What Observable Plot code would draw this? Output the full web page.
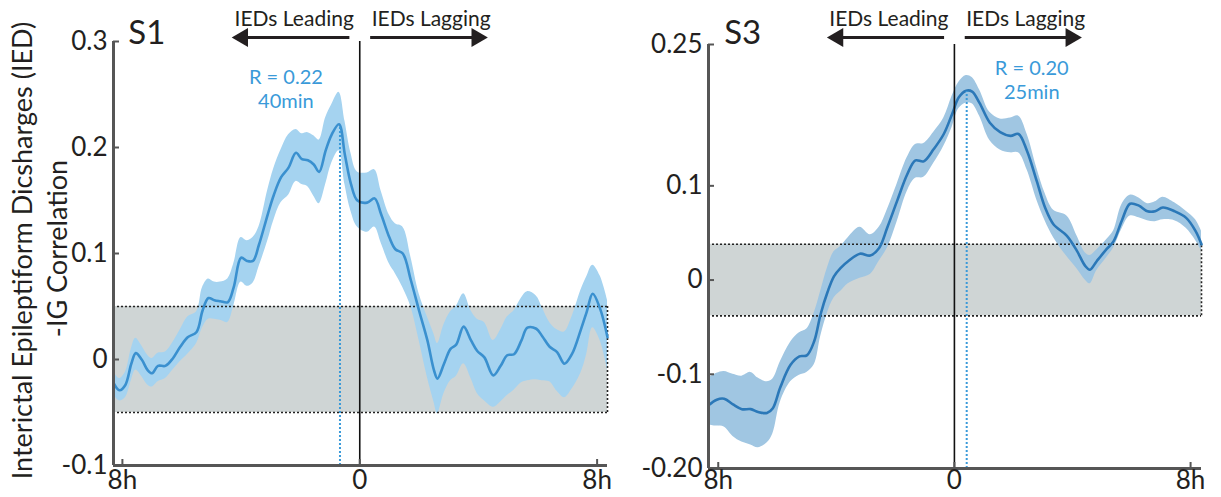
<!DOCTYPE html>
<html><head><meta charset="utf-8">
<script src="https://cdn.jsdelivr.net/npm/d3@7"></script>
<script src="https://cdn.jsdelivr.net/npm/@observablehq/plot@0.6"></script>
<style>
body{margin:0;background:#fff;}
#wrap{position:relative;width:1221px;height:497px;overflow:hidden;background:#fff;}
#wrap svg{position:absolute;top:0;}
</style></head><body><div id="wrap"></div>
<script>
// ---------- S1 (left panel) ----------
const s1Hours = [-8.3,-8.1,-7.9,-7.7,-7.55,-7.35,-7.15,-7.0,-6.8,-6.55,-6.3,-6.05,-5.8,-5.5,-5.3,-5.1,-4.9,-4.7,-4.45,-4.25,-4.0,-3.8,-3.6,-3.4,-3.1,-2.9,-2.65,-2.4,-2.15,-1.95,-1.75,-1.55,-1.37,-1.15,-0.95,-0.7,-0.5,-0.3,-0.08,0.25,0.5,0.72,1.0,1.2,1.45,1.72,2.0,2.28,2.5,2.62,2.84,3.06,3.25,3.5,3.75,3.96,4.2,4.5,4.75,4.97,5.2,5.45,5.65,5.95,6.15,6.4,6.65,6.9,7.15,7.45,7.65,7.85,8.1,8.35];
const s1Mean  = [-0.022,-0.029,-0.024,-0.004,0.006,0.000,-0.010,-0.013,-0.006,-0.006,0.001,0.012,0.021,0.026,0.046,0.058,0.056,0.055,0.054,0.068,0.096,0.093,0.093,0.108,0.137,0.155,0.172,0.181,0.195,0.189,0.188,0.184,0.177,0.197,0.212,0.222,0.193,0.166,0.150,0.148,0.152,0.137,0.115,0.104,0.100,0.075,0.046,0.018,-0.010,-0.018,-0.004,0.010,0.014,0.031,0.018,0.008,0.002,-0.015,-0.006,0.004,0.005,0.018,0.030,0.029,0.022,0.012,0.007,-0.004,0.005,0.028,0.045,0.062,0.048,0.021];
const s1Lower = [-0.033,-0.039,-0.036,-0.020,-0.010,-0.016,-0.024,-0.026,-0.021,-0.018,-0.010,-0.002,0.005,0.015,0.030,0.038,0.038,0.037,0.035,0.050,0.073,0.069,0.072,0.087,0.112,0.131,0.148,0.155,0.168,0.165,0.163,0.154,0.147,0.165,0.185,0.197,0.165,0.140,0.125,0.120,0.125,0.110,0.090,0.081,0.068,0.050,0.018,-0.017,-0.040,-0.051,-0.032,-0.020,-0.016,-0.004,-0.018,-0.032,-0.039,-0.045,-0.040,-0.034,-0.029,-0.022,-0.020,-0.019,-0.020,-0.021,-0.030,-0.036,-0.028,-0.013,0.005,0.030,0.018,-0.010];
const s1Upper = [-0.011,-0.018,-0.012,0.010,0.020,0.013,0.004,0.001,0.006,0.007,0.016,0.028,0.040,0.045,0.068,0.076,0.073,0.073,0.076,0.090,0.115,0.112,0.115,0.125,0.160,0.180,0.198,0.212,0.217,0.213,0.214,0.211,0.207,0.228,0.240,0.252,0.225,0.195,0.177,0.176,0.179,0.159,0.136,0.128,0.125,0.097,0.062,0.040,0.024,0.015,0.033,0.045,0.050,0.062,0.046,0.038,0.035,0.018,0.028,0.040,0.046,0.058,0.064,0.060,0.049,0.035,0.028,0.026,0.040,0.065,0.078,0.089,0.079,0.056];
const s1YTicks  = [-0.1, 0, 0.1, 0.2, 0.3];
const s1YLabels = ["-0.1", "0", "0.1", "0.2", "0.3"];
const s1NullBand = 0.05;
const s1PeakLag = -40 / 60;   // hours
const s1PeakR = 0.22;
const s1Note = "R = 0.22\n40min";

// ---------- S3 (right panel) ----------
const s3Hours = [-8.33,-8.05,-7.8,-7.5,-7.2,-6.9,-6.65,-6.35,-6.15,-5.9,-5.55,-5.25,-5.0,-4.75,-4.53,-4.3,-4.08,-3.85,-3.6,-3.2,-2.85,-2.55,-2.27,-1.94,-1.6,-1.32,-1.04,-0.7,-0.36,-0.08,0.15,0.4,0.6,0.85,1.2,1.55,1.9,2.17,2.46,2.79,3.07,3.36,3.81,4.15,4.43,4.59,4.82,5.16,5.39,5.67,5.95,6.25,6.54,6.8,7.06,7.46,7.85,8.17,8.37];
const s3Mean  = [-0.133,-0.127,-0.126,-0.132,-0.137,-0.137,-0.140,-0.141,-0.136,-0.114,-0.090,-0.081,-0.080,-0.065,-0.036,-0.013,0.004,0.013,0.020,0.028,0.026,0.034,0.056,0.084,0.112,0.127,0.126,0.139,0.155,0.176,0.194,0.201,0.200,0.188,0.167,0.157,0.153,0.155,0.137,0.105,0.077,0.059,0.047,0.031,0.015,0.011,0.020,0.033,0.041,0.063,0.081,0.079,0.073,0.073,0.077,0.073,0.066,0.052,0.038];
const s3Lower = [-0.154,-0.155,-0.156,-0.166,-0.172,-0.175,-0.178,-0.173,-0.163,-0.130,-0.108,-0.101,-0.098,-0.090,-0.060,-0.035,-0.019,-0.012,-0.004,0.002,0.006,0.020,0.034,0.062,0.094,0.108,0.109,0.124,0.142,0.162,0.182,0.188,0.187,0.174,0.148,0.138,0.135,0.135,0.117,0.085,0.063,0.045,0.025,0.012,0.000,-0.004,0.010,0.024,0.034,0.054,0.068,0.066,0.063,0.062,0.064,0.063,0.055,0.042,0.031];
const s3Upper = [-0.104,-0.099,-0.097,-0.100,-0.102,-0.098,-0.104,-0.108,-0.105,-0.087,-0.066,-0.056,-0.052,-0.035,-0.012,0.013,0.030,0.036,0.045,0.056,0.048,0.056,0.075,0.102,0.130,0.144,0.145,0.157,0.172,0.195,0.210,0.217,0.215,0.202,0.178,0.171,0.172,0.174,0.155,0.119,0.092,0.074,0.068,0.047,0.029,0.026,0.032,0.043,0.052,0.080,0.090,0.087,0.081,0.083,0.088,0.082,0.073,0.064,0.052];
const s3YTicks  = [-0.2, -0.1, 0, 0.1, 0.25];
const s3YLabels = ["-0.20", "-0.1", "0", "0.1", "0.25"];
const s3NullBand = 0.038;
const s3PeakLag = 25 / 60;    // hours
const s3PeakR = 0.20;
const s3Note = "R = 0.20\n25min";

// ---------- shared ----------
const xTicks  = [-8, 0, 8];
const xLabels = ["8h", "0", "8h"];
const yTitleLines = ["Interictal Epileptiform Dicsharges (IED)", "-IG Correlation"];
const leadLagLabels = ["IEDs Leading", "IEDs Lagging"];
const leadLagArrows = [[-0.35, -3.95], [0.35, 3.95]];
const panelNames = ["S1", "S3"];

const INK = "#231f20";
const AXIS = "#565656";
const FONT = "Lato, 'Open Sans', sans-serif";

function panel(cfg) {
  const rows = cfg.hours.map((h, i) => ({h, m: cfg.mean[i], lo: cfg.lower[i], hi: cfg.upper[i]}));
  const [x0, x1] = cfg.xDomain;
  const [y0, y1] = cfg.yDomain;
  const marks = [
    Plot.rect([cfg.nullBand], {x1: () => x0, x2: () => x1, y1: d => -d, y2: d => d, fill: "#cfd5d5"}),
    Plot.areaY(rows, {x: "h", y1: "lo", y2: "hi", fill: cfg.bandColor, curve: "catmull-rom"}),
    Plot.ruleY([-cfg.nullBand, cfg.nullBand], {x1: () => x0, x2: () => x1, stroke: "#222", strokeWidth: 1.6, strokeDasharray: "2,2"}),
    Plot.ruleX([x1], {y1: () => -cfg.nullBand, y2: () => cfg.nullBand, stroke: "#222", strokeWidth: 1.6, strokeDasharray: "2,2"}),
    Plot.lineY(rows, {x: "h", y: "m", stroke: cfg.lineColor, strokeWidth: 2.6, curve: "catmull-rom"}),
    Plot.ruleX([0], {y1: () => y0, y2: () => y1, stroke: "#111", strokeWidth: 1.6}),
    Plot.ruleX([cfg.peakLag], {y1: () => y0, y2: () => cfg.peakR, stroke: cfg.noteColor, strokeWidth: 2, strokeDasharray: "2,2"}),
    // axis lines
    Plot.ruleX([x0], {y1: () => y0, y2: () => y1, stroke: AXIS, strokeWidth: 3}),
    Plot.ruleY([y0], {x1: () => x0, x2: () => x1, stroke: AXIS, strokeWidth: 3}),
    // inward ticks
    Plot.ruleY(cfg.yTicks, {x1: () => x0, x2: () => x0, insetRight: -6, stroke: AXIS, strokeWidth: 2}),
    Plot.ruleX(xTicks, {y1: () => y0, y2: () => y0, insetTop: -6, stroke: AXIS, strokeWidth: 2}),
    Plot.axisY({ticks: cfg.yTicks, tickFormat: d => cfg.yLabels[cfg.yTicks.indexOf(d)], tickSize: 0, tickPadding: 6, fontSize: 26, fill: INK, label: null}),
    Plot.axisX({ticks: xTicks, tickFormat: d => xLabels[xTicks.indexOf(d)], tickSize: 0, tickPadding: cfg.xPad, fontSize: 26, fill: INK, label: null}),
    // panel name
    Plot.text([cfg.name], {x: () => cfg.nameHour, y: () => y1, text: d => d, textAnchor: "start", lineAnchor: "bottom", dy: cfg.nameDy, fontSize: 33, fill: INK}),
    // leading / lagging
    Plot.text([leadLagLabels[0]], {x: () => -0.2, y: () => y1, text: d => d, textAnchor: "end", lineAnchor: "bottom", dy: cfg.labelDy, fontSize: 21, fill: INK}),
    Plot.text([leadLagLabels[1]], {x: () => 0.4, y: () => y1, text: d => d, textAnchor: "start", lineAnchor: "bottom", dy: cfg.labelDy, fontSize: 21, fill: INK}),
    Plot.link(leadLagArrows, {x1: d => d[0], x2: d => d[1], y1: () => y1, y2: () => y1, dy: cfg.arrowDy, stroke: INK, strokeWidth: 3}),
    Plot.dot(leadLagArrows, {x: d => d[1], y: () => y1, dy: cfg.arrowDy, symbol: "triangle", r: 7, fill: INK, stroke: null, rotate: d => d[1] < 0 ? -90 : 90}),
    // R note
    Plot.text([cfg.note], {x: () => cfg.noteX, y: () => cfg.noteY, text: d => d, fontSize: 20, lineHeight: 1.2, fill: cfg.noteColor})
  ];
  if (cfg.yTitle) {
    marks.push(Plot.text([yTitleLines[0]], {frameAnchor: "left", text: d => d, rotate: -90, textAnchor: "middle", lineAnchor: "bottom", dx: -82, dy: -3, fontSize: 27, fill: INK}));
    marks.push(Plot.text([yTitleLines[1]], {frameAnchor: "left", text: d => d, rotate: -90, textAnchor: "middle", lineAnchor: "bottom", dx: -47, dy: -5, fontSize: 27, fill: INK}));
  }
  const svg = Plot.plot({
    width: cfg.width, height: 497,
    marginLeft: cfg.margins[0], marginRight: cfg.margins[1], marginTop: cfg.margins[2], marginBottom: cfg.margins[3],
    x: {domain: cfg.xDomain, axis: null},
    y: {domain: cfg.yDomain, axis: null},
    style: {fontFamily: FONT, background: "transparent", overflow: "visible"},
    marks
  });
  svg.style.left = cfg.left + "px";
  return svg;
}

const wrap = document.getElementById("wrap");
wrap.appendChild(panel({
  hours: s1Hours, mean: s1Mean, lower: s1Lower, upper: s1Upper,
  xDomain: [-8.3, 8.35], yDomain: [-0.1, 0.3], yTicks: s1YTicks, yLabels: s1YLabels,
  nullBand: s1NullBand, peakLag: s1PeakLag, peakR: s1PeakR, note: s1Note, noteX: -2.49, noteY: 0.256,
  name: panelNames[0], nameHour: -7.8, nameDy: 2, labelDy: -16, arrowDy: -4, xPad: 5,
  bandColor: "#a5d3f0", lineColor: "#3a90cf", noteColor: "#3a9ad9",
  width: 610, margins: [113, 3, 41, 32], left: 0, yTitle: true
}));
wrap.appendChild(panel({
  hours: s3Hours, mean: s3Mean, lower: s3Lower, upper: s3Upper,
  xDomain: [-8.33, 8.37], yDomain: [-0.2, 0.25], yTicks: s3YTicks, yLabels: s3YLabels,
  nullBand: s3NullBand, peakLag: s3PeakLag, peakR: s3PeakR, note: s3Note, noteX: 2.62, noteY: 0.213,
  name: panelNames[1], nameHour: -7.8, nameDy: -1, labelDy: -19, arrowDy: -7, xPad: 2,
  bandColor: "#a0c6e2", lineColor: "#2b78b8", noteColor: "#3a9ad9",
  width: 611, margins: [98, 20, 44, 29], left: 610, yTitle: false
}));
</script>
</body></html>
